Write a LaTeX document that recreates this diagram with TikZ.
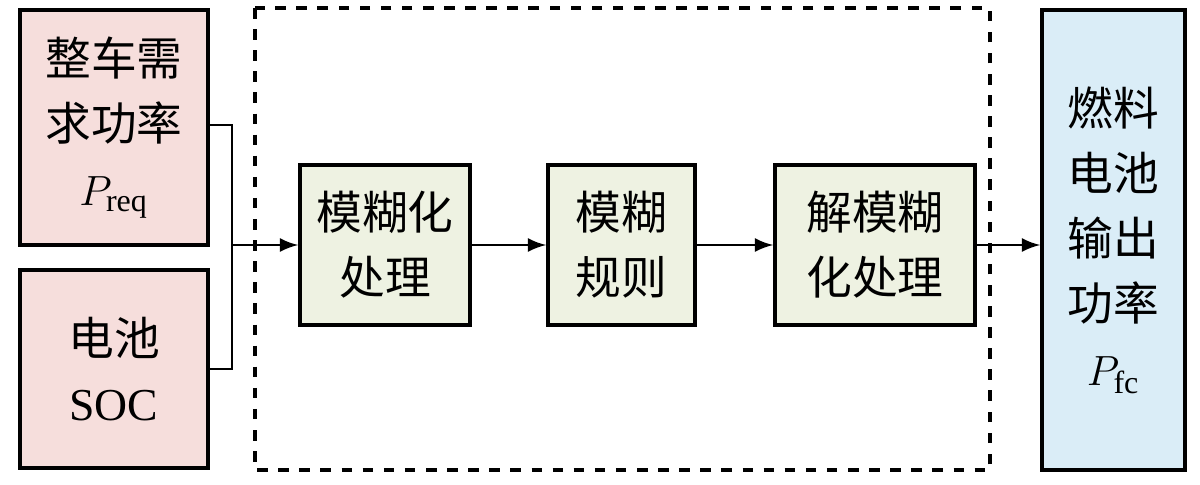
\documentclass[tikz,border=0pt]{standalone}
\usepackage{fontspec}
\setmainfont{Liberation Serif}
\newfontfamily\cjk{Noto Sans CJK SC}
\usetikzlibrary{positioning}
\definecolor{pinkfill}{RGB}{246,222,220}
\definecolor{greenfill}{RGB}{238,242,226}
\definecolor{bluefill}{RGB}{218,237,247}
\begin{document}
\begin{tikzpicture}[x=0.01cm,y=-0.01cm]
    \tikzstyle{box} = [draw=black, line width=1pt, align=center, inner sep=0pt,
        font=\fontsize{13}{18.5}\selectfont\cjk]
    \tikzstyle{arrow} = [line width=0.8pt, -latex]
    \useasboundingbox (0,0) rectangle (1200,484);
    \node[box, fill=pinkfill, minimum width=1.88cm, minimum height=2.35cm] (Req) at (114,127.5)
        {整车需\\求功率\\\rmfamily$P_{\mathrm{req}}$};
    \node[box, fill=pinkfill, minimum width=1.88cm, minimum height=1.98cm] (SOC) at (114,369)
        {电池\\\rmfamily SOC};
    \draw[line width=1pt, dashed] (255,8) rectangle (990,470);
    \node[box, fill=greenfill, minimum width=1.7cm, minimum height=1.6cm] (Fuzz) at (385,245)
        {模糊化\\处理};
    \node[box, fill=greenfill, minimum width=1.47cm, minimum height=1.6cm] (Rule) at (621.5,245)
        {模糊\\规则};
    \node[box, fill=greenfill, minimum width=2cm, minimum height=1.6cm] (Defuzz) at (875,245)
        {解模糊\\化处理};
    \node[box, fill=bluefill, minimum width=1.43cm, minimum height=4.6cm] (Pfc) at (1113.5,240)
        {燃料\\电池\\输出\\功率\\\rmfamily$P_{\mathrm{fc}}$};
    \coordinate (J) at (232,245);
    \draw[line width=0.8pt] (Req.east |- 0,125) -| (J) |- (SOC.east);
    \draw[arrow] (J) -- (Fuzz);
    \draw[arrow] (Fuzz) -- (Rule);
    \draw[arrow] (Rule) -- (Defuzz);
    \draw[arrow] (Defuzz) -- (Defuzz -| Pfc.west);
\end{tikzpicture}
\end{document}
